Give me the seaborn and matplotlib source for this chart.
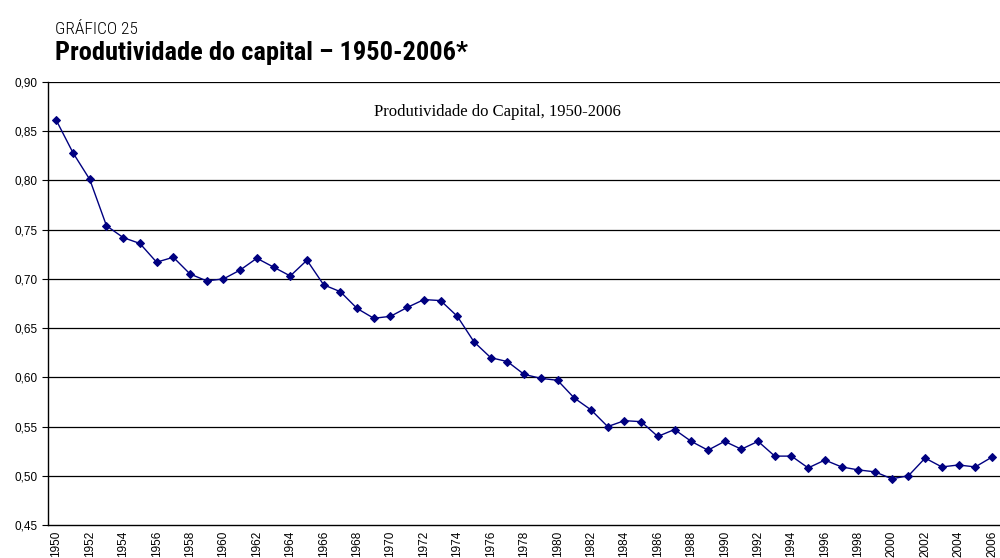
import numpy as np
import pandas as pd

import matplotlib.pyplot as plt
import seaborn as sns
from matplotlib import font_manager

years = list(range(1950, 2007))
produtividade = [
    0.861, 0.828, 0.801, 0.754, 0.742, 0.736, 0.717, 0.722, 0.705, 0.698,
    0.700, 0.709, 0.721, 0.712, 0.703, 0.719, 0.694, 0.687, 0.670, 0.660,
    0.662, 0.671, 0.679, 0.678, 0.662, 0.636, 0.620, 0.616, 0.603, 0.599,
    0.597, 0.579, 0.567, 0.550, 0.556, 0.555, 0.540, 0.547, 0.535, 0.526,
    0.535, 0.527, 0.535, 0.520, 0.520, 0.508, 0.516, 0.509, 0.506, 0.504,
    0.497, 0.500, 0.518, 0.509, 0.511, 0.509, 0.519,
]
y_ticks = [0.45, 0.50, 0.55, 0.60, 0.65, 0.70, 0.75, 0.80, 0.85, 0.90]

df = pd.DataFrame({'ano': years, 'valor': produtividade})

sns.set_style("white")
plt.rcParams['font.family'] = ['Liberation Sans', 'DejaVu Sans']
plt.rcParams['text.color'] = 'black'
plt.rcParams['xtick.color'] = 'black'
plt.rcParams['ytick.color'] = 'black'

# condensed face for the headings, if one is installed
names = {f.name for f in font_manager.fontManager.ttflist}
cond = [n for n in ['Liberation Sans Narrow', 'DejaVu Sans Condensed', 'Roboto Condensed',
                    'Open Sans Condensed'] if n in names]
head_family = cond + ['DejaVu Sans']

fig = plt.figure(figsize=(10, 5.58), dpi=100)
ax = fig.add_axes([0.048, 0.0591, 0.9523, 0.7939])

for v in y_ticks[1:]:
    ax.axhline(v, color='black', linewidth=0.9, zorder=1)

sns.lineplot(data=df, x='ano', y='valor', ax=ax, color='#000080', linewidth=1.0,
             marker='D', markersize=4.5, markeredgecolor='#000080', zorder=3)

ax.set_xlim(1949.5, 2006.5)
ax.set_ylim(0.45, 0.90)
ax.set_yticks(y_ticks)
ax.set_yticklabels([f'{v:.2f}'.replace('.', ',') for v in y_ticks], fontsize=8.5)
ax.set_xticks(years[::2])
ax.set_xticklabels([str(y) for y in years[::2]], rotation=90, fontsize=8.5)
ax.set_xticks(np.arange(1949.5, 2006.6, 1.0), minor=True)
ax.tick_params(axis='x', which='major', length=0, pad=4)
ax.tick_params(axis='x', which='minor', length=4, width=0.8, direction='out')
ax.tick_params(axis='y', length=4, width=0.8, direction='out', left=True)
ax.set_xlabel('')
ax.set_ylabel('')

for s in ['top', 'right']:
    ax.spines[s].set_visible(False)
for s in ['left', 'bottom']:
    ax.spines[s].set_color('black')
    ax.spines[s].set_linewidth(1.0)

ax.text(0.4716, 0.932, 'Produtividade do Capital, 1950-2006', transform=ax.transAxes,
        ha='center', va='center', fontsize=12, family=['Liberation Serif'])

fig.text(0.055, 0.939, 'GRÁFICO 25', fontsize=12.5, family=head_family, fontstretch='condensed',
         fontweight='light', va='baseline', ha='left')
fig.text(0.055, 0.8925, 'Produtividade do capital – 1950-2006*', fontsize=19, fontweight='bold',
         family=head_family, fontstretch='condensed', va='baseline', ha='left')

fig.savefig('out.png', dpi=100)
